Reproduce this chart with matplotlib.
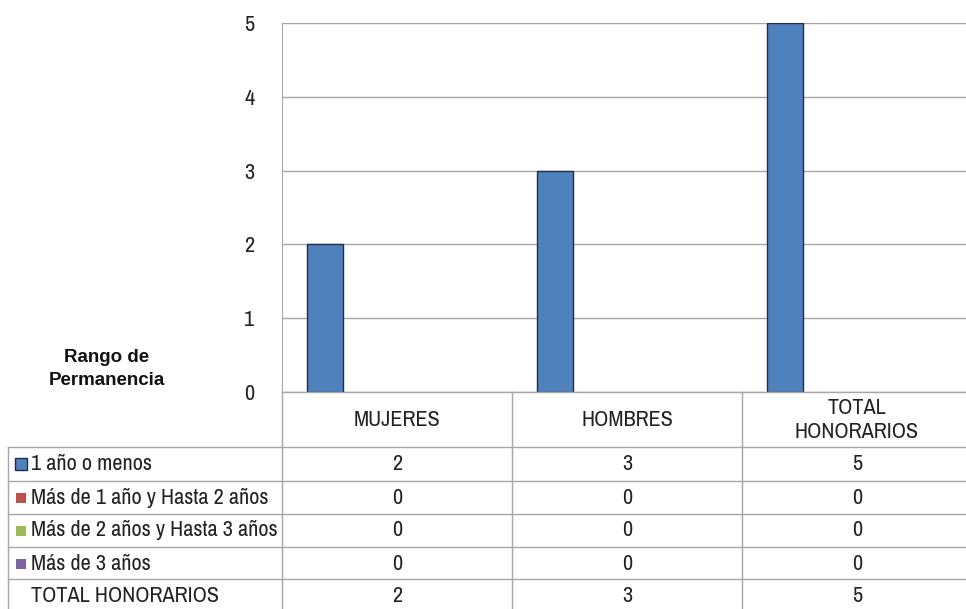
import numpy as np
import matplotlib
matplotlib.use('Agg')
import matplotlib.pyplot as plt
from matplotlib.patches import Rectangle

plt.rcParams['font.family'] = ['Archivo Narrow', 'Liberation Sans', 'DejaVu Sans']

categories = ['MUJERES', 'HOMBRES', 'TOTAL\nHONORARIOS']
series_names = ['1 año o menos', 'Más de 1 año y Hasta 2 años',
                'Más de 2 años y Hasta 3 años', 'Más de 3 años', 'TOTAL HONORARIOS']
series_values = [[2, 3, 5], [0, 0, 0], [0, 0, 0], [0, 0, 0], [2, 3, 5]]
series_colors = ['#4F81BD', '#C0504D', '#9BBB59', '#8064A2', None]
yticks = [0, 1, 2, 3, 4, 5]

W, H = 966, 609
fig = plt.figure(figsize=(W / 100, H / 100), dpi=100)

# plot area in pixels
px_left, px_right, px_top, px_bot = 282, 972, 23, 392
ax = fig.add_axes([px_left / W, 1 - px_bot / H, (px_right - px_left) / W, (px_bot - px_top) / H])

grid_c = '#A6A6A6'
x = np.arange(len(categories))
n_slots = 5
gap = 50 / 230
bw = (1 - gap) / n_slots
for i in range(4):
    offs = -0.5 + gap / 2 + bw * (i + 0.5)
    vals = series_values[i]
    ax.bar(x + offs, vals, width=bw, color=series_colors[i],
           edgecolor='#1C2E4A' if i == 0 else 'none', linewidth=1.0, zorder=3)

ax.set_xlim(-0.5, 2.5)
ax.set_ylim(0, 5)
ax.set_yticks(yticks)
ax.yaxis.grid(True, color=grid_c, linewidth=1.0, zorder=0)
ax.set_xticks([])
for s in ['top', 'right', 'bottom']:
    ax.spines[s].set_visible(False)
ax.spines['left'].set_color(grid_c)
ax.tick_params(axis='y', length=0, pad=20, labelsize=16, labelcolor='#222222')

# data table below
fig_ax = fig.add_axes([0, 0, 1, 1])
fig_ax.set_xlim(0, W)
fig_ax.set_ylim(H, 0)
fig_ax.axis('off')

cat_w = (px_right - px_left) / len(categories)
row_lines = [447, 481, 514, 547, 579]
row_h = 33
line_kw = dict(color=grid_c, linewidth=1.0)

fig_ax.plot([px_left, px_right], [px_bot, px_bot], **line_kw)
for y in row_lines:
    fig_ax.plot([8, px_right], [y, y], **line_kw)
fig_ax.plot([8, 8], [row_lines[0], H + 5], **line_kw)
for k in range(len(categories)):
    xv = px_left + k * cat_w
    fig_ax.plot([xv, xv], [px_bot, H + 5], **line_kw)

txt_c = '#222222'
fs = 16
for k, cat in enumerate(categories):
    cx = px_left + (k + 0.5) * cat_w
    fig_ax.text(cx, (px_bot + row_lines[0]) / 2, cat, ha='center', va='center',
                fontsize=fs, color=txt_c, linespacing=1.25)

for r, name in enumerate(series_names):
    cy = row_lines[r] + row_h / 2
    if series_colors[r] is not None:
        if r == 0:
            fig_ax.add_patch(Rectangle((15, cy - 6), 12, 12, facecolor=series_colors[r],
                                       edgecolor='#1C2E4A', linewidth=1.0))
        else:
            fig_ax.add_patch(Rectangle((16, cy - 5), 10, 10, facecolor=series_colors[r],
                                       edgecolor='none'))
    fig_ax.text(31, cy, name, ha='left', va='center', fontsize=fs, color=txt_c)
    for k in range(len(categories)):
        cx = px_left + (k + 0.5) * cat_w
        fig_ax.text(cx, cy, str(series_values[r][k]), ha='center', va='center',
                    fontsize=fs, color=txt_c)

fig_ax.text(107, 369, 'Rango de\nPermanencia', ha='center', va='center',
            fontsize=13.5, fontweight='bold', color='#111111',
            family=['Liberation Sans', 'DejaVu Sans'], linespacing=1.45)

fig.savefig('out.png', dpi=100)
